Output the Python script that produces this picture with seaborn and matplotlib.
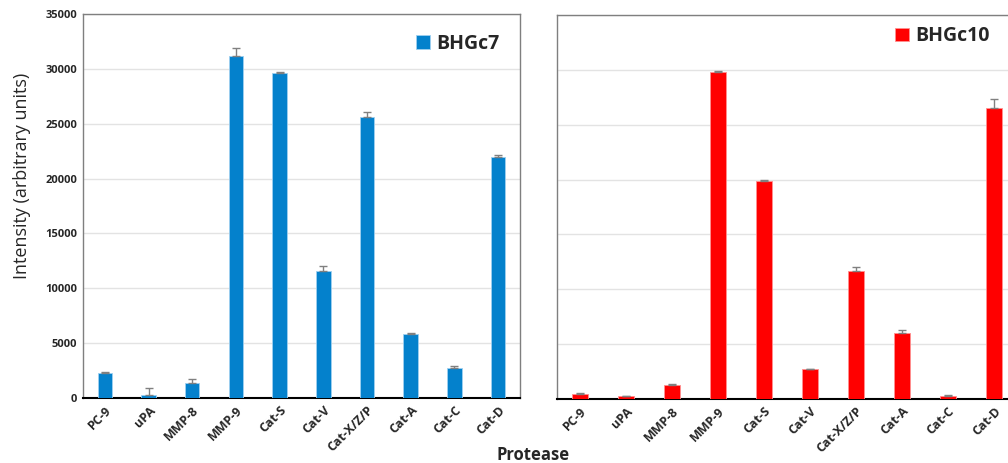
import numpy as np
import pandas as pd
import matplotlib
matplotlib.use('Agg')
import matplotlib.pyplot as plt
import seaborn as sns

# date
proteaze = ['PC-9', 'uPA', 'MMP-8', 'MMP-9', 'Cat-S', 'Cat-V', 'Cat-X/Z/P', 'Cat-A', 'Cat-C', 'Cat-D']
bhgc7 = [2250, 300, 1400, 31200, 29600, 11600, 25590, 5830, 2760, 22000]
bhgc7_err = [150, 580, 330, 670, 80, 400, 450, 80, 190, 180]
bhgc10 = [460, 250, 1280, 29780, 19870, 2700, 11640, 6040, 270, 26530]
bhgc10_err = [80, 50, 50, 80, 80, 60, 350, 250, 60, 850]

sns.set_style('white')
plt.rcParams['font.family'] = ['Open Sans', 'DejaVu Sans']

fig = plt.figure(figsize=(10.08, 4.63), dpi=100)
ax1 = fig.add_axes([0.0823, 0.1404, 0.4335, 0.8294])
ax2 = fig.add_axes([0.5526, 0.1382, 0.4563, 0.8294])

seturi = [
    (ax1, bhgc7, bhgc7_err, 'BHGc7', '#0481CC', True, (0.954, 0.948)),
    (ax2, bhgc10, bhgc10_err, 'BHGc10', '#FF0000', False, (0.941, 0.971)),
]

for ax, vals, errs, nume, culoare, arata_y, anc in seturi:
    df = pd.DataFrame({'Protease': proteaze, 'Intensity': vals})
    sns.barplot(data=df, x='Protease', y='Intensity', color=culoare, saturation=1,
                width=0.33, edgecolor='#9fd0f0' if arata_y else '#ff9090', linewidth=0.6,
                label=nume, ax=ax, zorder=3)
    x = np.arange(len(proteaze))
    ax.errorbar(x, vals, yerr=[np.zeros(len(errs)), errs], fmt='none',
                ecolor='#808080', elinewidth=1, capsize=3, capthick=1, zorder=4)
    ax.set_xlim(-0.5, 9.5)
    ax.set_ylim(0, 35000)
    ax.set_yticks(range(0, 35001, 5000))
    ax.yaxis.grid(True, color='#e3e3e3', linewidth=1, zorder=0)
    ax.set_axisbelow(True)
    ax.set_xlabel('')
    ax.set_ylabel('')
    ax.tick_params(axis='both', length=0, pad=4)
    plt.setp(ax.get_xticklabels(), rotation=45, ha='right', rotation_mode='anchor',
             fontsize=9, fontweight='bold')
    if arata_y:
        plt.setp(ax.get_yticklabels(), fontsize=8, fontweight='bold')
    else:
        ax.set_yticklabels([])
    for s in ['top', 'left', 'right']:
        ax.spines[s].set_color('#7f7f7f')
        ax.spines[s].set_linewidth(1)
    ax.spines['bottom'].set_color('black')
    ax.spines['bottom'].set_linewidth(1.5)
    leg = ax.legend(loc='upper right', bbox_to_anchor=anc, frameon=False,
                    borderpad=0, borderaxespad=0,
                    handlelength=0.7, handleheight=0.7, handletextpad=0.35,
                    prop={'weight': 'bold', 'size': 14})

fig.text(0.022, 0.62, 'Intensity (arbitrary units)', rotation=90, ha='center', va='center',
         fontsize=13)
fig.text(0.529, 0.018, 'Protease', ha='center', va='center', fontsize=12, fontweight='bold')

fig.savefig('out.png', dpi=100)
